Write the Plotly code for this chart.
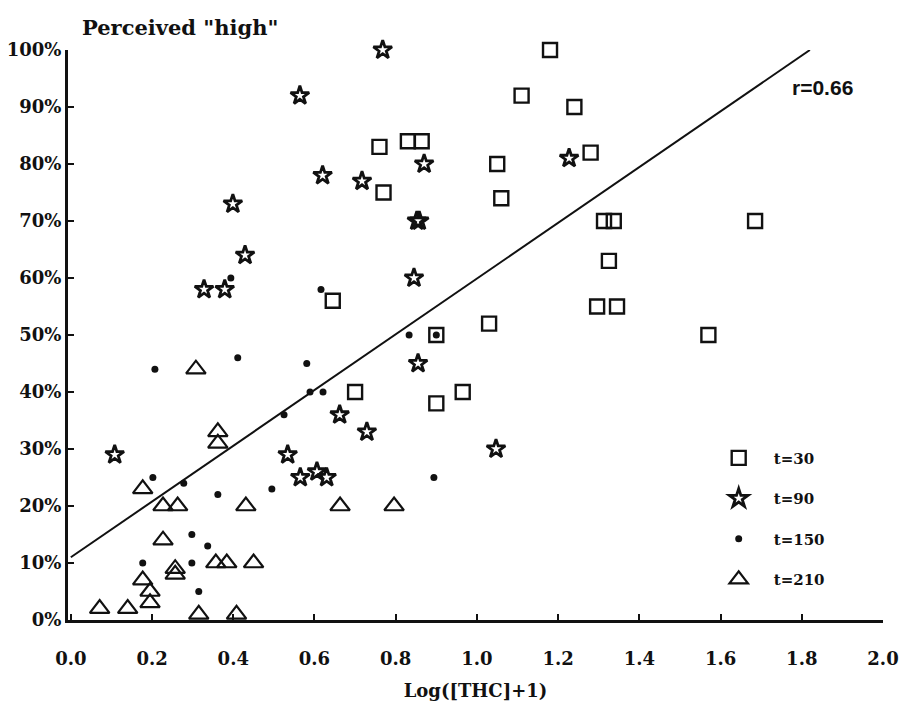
import plotly.graph_objects as go

# ---- data ----
sq_x = [1.18, 1.11, 1.24, 1.28, 1.05, 1.06, 1.313, 1.337, 1.325, 1.296, 1.345,
        1.57, 1.685, 1.03, 0.965, 0.90, 0.90, 0.70, 0.645, 0.76, 0.77, 0.83, 0.864]
sq_y = [100, 92, 90, 82, 80, 74, 70, 70, 63, 55, 55,
        50, 70, 52, 40, 38, 50, 40, 56, 83, 75, 84, 84]

star_x = [0.768, 0.564, 0.62, 0.717, 0.87, 1.227, 0.852, 0.858, 0.399, 0.429,
          0.328, 0.379, 0.845, 0.855, 0.662, 0.729, 1.047, 0.108, 0.534, 0.565,
          0.606, 0.630]
star_y = [100, 92, 78, 77, 80, 81, 70, 70, 73, 64,
          58, 58, 60, 45, 36, 33, 30, 29, 29, 25,
          26, 25]

dot_x = [0.207, 0.411, 0.581, 0.589, 0.621, 0.525, 0.833, 0.894, 0.202, 0.278,
         0.362, 0.495, 0.298, 0.337, 0.177, 0.298, 0.315, 0.394, 0.616, 0.90]
dot_y = [44, 46, 45, 40, 40, 36, 50, 25, 25, 24,
         22, 23, 15, 13, 10, 10, 5, 60, 58, 50]

tri_x = [0.308, 0.362, 0.362, 0.177, 0.227, 0.263, 0.431, 0.663, 0.796, 0.227,
         0.257, 0.257, 0.357, 0.384, 0.45, 0.177, 0.195, 0.195, 0.071, 0.14,
         0.315, 0.408, -0.012]
tri_y = [44, 33, 31, 23, 20, 20, 20, 20, 20, 14,
         9, 8, 10, 10, 10, 7, 5, 3, 2, 2,
         1, 1, 0]

fit_x = [0.0, 1.82]
fit_y = [11.0, 100.0]
r_label = "r=0.66"

x_ticks = [0.0, 0.2, 0.4, 0.6, 0.8, 1.0, 1.2, 1.4, 1.6, 1.8, 2.0]
x_tick_text = ["0.0", "0.2", "0.4", "0.6", "0.8", "1.0", "1.2", "1.4", "1.6", "1.8", "2.0"]
y_ticks = [0, 10, 20, 30, 40, 50, 60, 70, 80, 90, 100]
y_tick_text = ["0%", "10%", "20%", "30%", "40%", "50%", "60%", "70%", "80%", "90%", "100%"]

INK = "#111111"
SERIF = "DejaVu Serif"

fig = go.Figure()

fig.add_trace(go.Scatter(x=fit_x, y=fit_y, mode="lines",
                         line=dict(color=INK, width=2), showlegend=False,
                         hoverinfo="skip"))

fig.add_trace(go.Scatter(x=sq_x, y=sq_y, mode="markers", name="t=30",
                         legendgroup="a",
                         marker=dict(symbol="square-open", size=14, color=INK,
                                     line=dict(width=2.4, color=INK)),
                         cliponaxis=False))
fig.add_trace(go.Scatter(x=star_x, y=star_y, mode="markers", name="t=90",
                         legendgroup="b",
                         marker=dict(symbol="star-open", size=14, color=INK,
                                     line=dict(width=2.8, color=INK)),
                         cliponaxis=False))
fig.add_trace(go.Scatter(x=dot_x, y=dot_y, mode="markers", name="t=150",
                         legendgroup="c",
                         marker=dict(symbol="circle", size=7, color=INK,
                                     line=dict(width=0)),
                         cliponaxis=False))
fig.add_trace(go.Scatter(x=tri_x, y=tri_y, mode="markers", name="t=210",
                         legendgroup="d",
                         marker=dict(symbol="triangle-up-open", size=17, color=INK,
                                     line=dict(width=2.2, color=INK)),
                         cliponaxis=False))

fig.update_layout(
    width=904, height=701,
    margin=dict(l=68, r=21, t=50, b=81),
    paper_bgcolor="white", plot_bgcolor="white",
    font=dict(family=SERIF, color=INK, size=18, weight="bold"),
    showlegend=True,
    legend=dict(x=0.78, y=0.313, xanchor="left", yanchor="top",
                bgcolor="rgba(0,0,0,0)", font=dict(size=15, family=SERIF, weight="bold"),
                tracegroupgap=18, itemwidth=60),
    xaxis=dict(range=[-0.007, 2.0], showgrid=False, zeroline=False,
               showline=True, linewidth=3, linecolor=INK,
               ticks="inside", ticklen=6, tickwidth=2, tickcolor=INK,
               tickvals=x_ticks, ticktext=x_tick_text,
               ticklabelstandoff=20, automargin=False,
               title=dict(text="Log([THC]+1)", font=dict(size=18, family=SERIF, weight="bold"),
                          standoff=21)),
    yaxis=dict(range=[0, 100], showgrid=False, zeroline=False,
               showline=True, linewidth=3, linecolor=INK,
               ticks="inside", ticklen=6, tickwidth=2, tickcolor=INK,
               tickvals=y_ticks, ticktext=y_tick_text,
               ticklabelstandoff=0, automargin=False),
)

fig.add_annotation(xref="paper", yref="paper", x=0.0147, y=1.0386,
                   xanchor="left", yanchor="middle", showarrow=False,
                   text='Perceived "high"',
                   font=dict(family=SERIF, size=21, weight="bold", color=INK))
fig.add_annotation(xref="x", yref="y", x=1.77, y=93.5,
                   xanchor="left", yanchor="middle", showarrow=False,
                   text=r_label,
                   font=dict(family="Liberation Sans", size=21, weight="bold", color=INK))

fig.write_html("out.html", config={"displayModeBar": False},
               post_script="document.body.style.margin='0';document.body.style.overflow='hidden';")
